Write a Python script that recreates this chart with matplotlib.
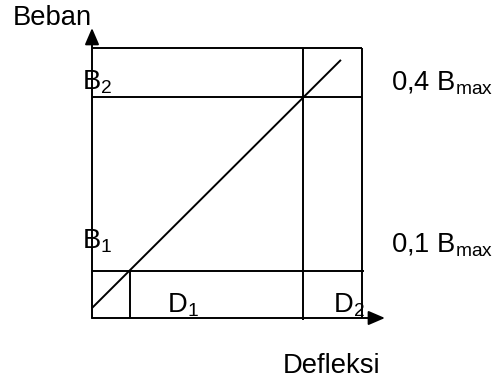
import matplotlib
matplotlib.use("Agg")
import matplotlib.pyplot as plt

plt.rcParams['font.family'] = ['Liberation Sans', 'DejaVu Sans']
plt.rcParams['mathtext.fontset'] = 'custom'
plt.rcParams['mathtext.rm'] = 'Liberation Sans'
plt.rcParams['mathtext.it'] = 'Liberation Sans'

# schematic load / deflection values (box = 100 x 100)
load_levels = [17.4, 81.9]          # B1, B2
load_top = 100.0
defl_levels = [14.1, 78.1]          # D1, D2
defl_right = 100.0
line_defl = [0.0, 92.2]             # straight load-deflection line
line_load = [3.7, 95.6]
load_labels = [r'$\mathregular{B_1}$', r'$\mathregular{B_2}$']
defl_labels = [r'$\mathregular{D_1}$', r'$\mathregular{D_2}$']
ratio_labels = [r'0,1 $\mathregular{B_{max}}$', r'0,4 $\mathregular{B_{max}}$']

W, H = 492, 381
px = 2.7  # pixels per unit
ox, oy = 92, 318

fig = plt.figure(figsize=(W / 100, H / 100), dpi=100)
ax = fig.add_axes([ox / W, (H - oy) / H, 100 * px / W, 100 * px / H])
ax.set_xlim(0, 100)
ax.set_ylim(0, 100)
ax.axis('off')

lw = 1.4
kw = dict(color='black', lw=lw, clip_on=False, solid_capstyle='butt')

# box
ax.plot([0, defl_right], [load_top, load_top], **kw)
ax.plot([defl_right, defl_right], [0, load_top], **kw)

# load levels
ax.plot([0, defl_right], [load_levels[1], load_levels[1]], **kw)
ax.plot([0, defl_right + 0.7], [load_levels[0], load_levels[0]], **kw)

# deflection levels
ax.plot([defl_levels[0], defl_levels[0]], [0, load_levels[0]], **kw)
ax.plot([defl_levels[1], defl_levels[1]], [-0.8, load_top], **kw)

# load-deflection line
ax.plot(line_defl, line_load, **kw)

# axes with arrows
arrow = dict(arrowstyle='-|>,head_length=10,head_width=4.3', color='black',
             lw=lw, shrinkA=0, shrinkB=0, mutation_scale=1)
ax.annotate('', xy=(0, 107.4), xytext=(0, 0), arrowprops=arrow,
            annotation_clip=False)
ax.annotate('', xy=(108.5, 0), xytext=(0, 0), arrowprops=arrow,
            annotation_clip=False)

fs = 19.7
ax.text(-29.5, 108.5, 'Beban', fontsize=fs, va='baseline', ha='left')
ax.text(70.6, -20.4, 'Defleksi', fontsize=fs, va='baseline', ha='left')

for lab, y in zip(load_labels, [25.6, 84.8]):
    ax.text(-3.8, y, lab, fontsize=fs, va='baseline', ha='left')
for lab, y in zip(ratio_labels, [24.4, 84.4]):
    ax.text(110.8, y, lab, fontsize=fs, va='baseline', ha='left')
for lab, x in zip(defl_labels, [27.7, 89.2]):
    ax.text(x, 2.2, lab, fontsize=fs, va='baseline', ha='left')

fig.savefig('out.png', dpi=100)
